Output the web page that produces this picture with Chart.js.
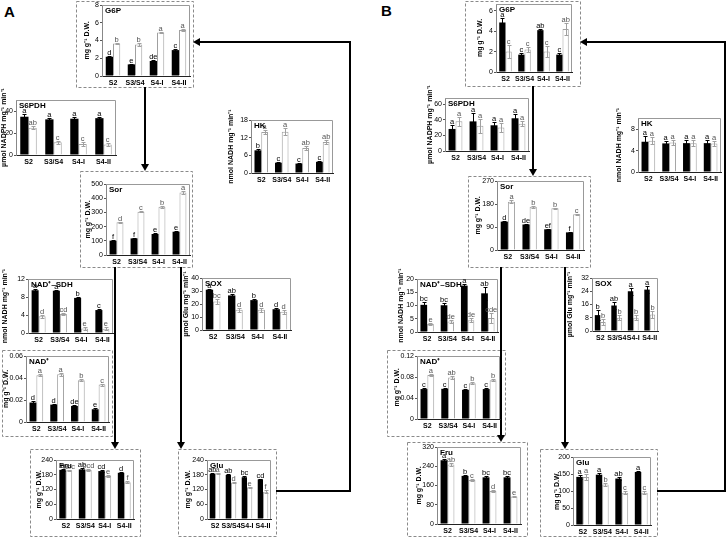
<!DOCTYPE html>
<html>
<head>
<meta charset="utf-8">
<script src="https://cdn.jsdelivr.net/npm/chart.js@4.4.0/dist/chart.umd.min.js"></script>
<style>
  body { margin: 0; background: #fff; }
  #fig { position: relative; width: 728px; height: 537px; overflow: hidden;
         font-family: "Liberation Sans", Arial, sans-serif; }
  .panel { position: absolute; font-weight: bold; font-size: 15px; }
  .cv { position: absolute; }
  #deco { position: absolute; left: 0; top: 0; }
</style>
</head>
<body>
<div id="fig">
  <svg id="deco" width="728" height="537"></svg>
  <div class="panel" style="left:4px;top:3px">A</div>
  <div class="panel" style="left:381px;top:2px">B</div>
</div>
<script>
const stages = ["S2", "S3/S4", "S4-I", "S4-II"];

// ---------- panel A ----------
const aG6pFilled = [2.17, 1.31, 1.69, 2.92];
const aG6pOpen = [3.67, 3.56, 4.91, 5.17];
const aG6pFilledErr = [0.08, 0.08, 0.06, 0.1];
const aG6pOpenErr = [0.1, 0.15, 0.1, 0.12];
const aG6pFilledSig = ["d", "e", "de", "c"];
const aG6pOpenSig = ["b", "b", "a", "a"];
const aG6pTicks = ["0", "2", "4", "6", "8"];

const aS6pdhFilled = [34.8, 32.4, 33, 33.5];
const aS6pdhOpen = [24.8, 11.5, 10, 9.5];
const aS6pdhFilledErr = [2.5, 1, 1.5, 1.5];
const aS6pdhOpenErr = [1.5, 1.5, 1.5, 1];
const aS6pdhFilledSig = ["a", "a", "a", "a"];
const aS6pdhOpenSig = ["ab", "c", "c", "c"];
const aS6pdhTicks = ["0", "10", "20", "30", "40", "50"];

const aHkFilled = [7.7, 3.5, 3.2, 3.8];
const aHkOpen = [13.9, 14, 8.5, 10.5];
const aHkFilledErr = [0.3, 0.3, 0.3, 0.3];
const aHkOpenErr = [0.8, 1.2, 0.8, 0.6];
const aHkFilledSig = ["b", "c", "c", "c"];
const aHkOpenSig = ["a", "a", "ab", "ab"];
const aHkTicks = ["0", "6", "12", "18"];

const aSorFilled = [101, 117, 148, 164];
const aSorOpen = [230, 305, 340, 441];
const aSorFilledErr = [3, 3, 4, 4];
const aSorOpenErr = [5, 5, 6, 12];
const aSorFilledSig = ["f", "f", "e", "e"];
const aSorOpenSig = ["d", "c", "b", "a"];
const aSorTicks = ["0", "100", "200", "300", "400", "500"];

const aSdhFilled = [9.5, 9.4, 7.8, 5.1];
const aSdhOpen = [3.7, 4.2, 1.0, 0.95];
const aSdhFilledErr = [0.2, 0.2, 0.3, 0.2];
const aSdhOpenErr = [0.4, 0.3, 0.3, 0.3];
const aSdhFilledSig = ["a", "a", "b", "c"];
const aSdhOpenSig = ["d", "cd", "e", "e"];
const aSdhTicks = ["0", "4", "8", "12"];

const aSoxFilled = [31, 26.6, 23, 16];
const aSoxOpen = [22, 15.5, 15.5, 14];
const aSoxFilledErr = [0.8, 0.8, 1, 1];
const aSoxOpenErr = [2, 1.5, 1.5, 1.5];
const aSoxFilledSig = ["a", "ab", "b", "d"];
const aSoxOpenSig = ["bc", "d", "d", "d"];
const aSoxTicks = ["0", "10", "20", "30", "40"];

const aNadFilled = [0.0177, 0.0158, 0.0146, 0.0116];
const aNadOpen = [0.0426, 0.0435, 0.038, 0.034];
const aNadFilledErr = [0.001, 0.001, 0.0008, 0.0008];
const aNadOpenErr = [0.001, 0.0015, 0.001, 0.001];
const aNadFilledSig = ["d", "d", "de", "e"];
const aNadOpenSig = ["a", "a", "b", "c"];
const aNadTicks = ["0", "0.02", "0.04", "0.06"];

const aFruFilled = [200, 202, 195, 188];
const aFruOpen = [198, 199, 175, 149];
const aFruFilledErr = [4, 4, 4, 4];
const aFruOpenErr = [3, 3, 3, 4];
const aFruFilledSig = ["a", "ab", "cd", "d"];
const aFruOpenSig = ["abc", "bcd", "e", "f"];
const aFruTicks = ["0", "60", "120", "180", "240"];

const aGluFilled = [183, 179, 170, 161];
const aGluOpen = [186, 148, 129, 111];
const aGluFilledErr = [4, 3, 3, 3];
const aGluOpenErr = [3, 3, 3, 6];
const aGluFilledSig = ["ab", "ab", "bc", "cd"];
const aGluOpenSig = ["a", "d", "e", "f"];
const aGluTicks = ["0", "60", "120", "180", "240"];

// ---------- panel B ----------
const bG6pFilled = [4.85, 1.7, 4.1, 1.7];
const bG6pOpen = [2.0, 2.2, 2.0, 4.2];
const bG6pFilledErr = [0.4, 0.15, 0.1, 0.15];
const bG6pOpenErr = [0.6, 0.2, 0.5, 0.6];
const bG6pFilledSig = ["a", "c", "ab", "c"];
const bG6pOpenSig = ["c", "c", "c", "ab"];
const bG6pTicks = ["0", "2", "4", "6"];

const bS6pdhFilled = [28.3, 38, 33, 42];
const bS6pdhOpen = [38.2, 32.5, 30, 35];
const bS6pdhFilledErr = [5, 11, 4, 5];
const bS6pdhOpenErr = [6, 9, 6, 3];
const bS6pdhFilledSig = ["a", "a", "a", "a"];
const bS6pdhOpenSig = ["a", "a", "a", "a"];
const bS6pdhTicks = ["0", "20", "40", "60"];

const bHkFilled = [5.66, 5.35, 5.4, 5.4];
const bHkOpen = [5.85, 5.5, 5.4, 5.35];
const bHkFilledErr = [1, 0.5, 0.5, 0.5];
const bHkOpenErr = [0.7, 0.5, 0.5, 0.5];
const bHkFilledSig = ["a", "a", "a", "a"];
const bHkOpenSig = ["a", "a", "a", "a"];
const bHkTicks = ["0", "2", "4", "6", "8", "10"];

const bSorFilled = [111, 100, 81, 69];
const bSorOpen = [189, 169.5, 163, 139.5];
const bSorFilledErr = [4, 3, 3, 3];
const bSorOpenErr = [5, 4, 3, 3];
const bSorFilledSig = ["d", "de", "ef", "f"];
const bSorOpenSig = ["a", "b", "b", "c"];
const bSorTicks = ["0", "90", "180", "270"];

const bSdhFilled = [10.25, 10.1, 17.5, 14.6];
const bSdhOpen = [3.0, 4.0, 4.4, 5.25];
const bSdhFilledErr = [1, 1, 0.5, 2.5];
const bSdhOpenErr = [0.5, 0.6, 0.8, 2];
const bSdhFilledSig = ["bc", "bc", "a", "ab"];
const bSdhOpenSig = ["e", "de", "de", "cde"];
const bSdhTicks = ["0", "5", "10", "15", "20"];

const bSoxFilled = [9.6, 15.4, 24, 25];
const bSoxOpen = [5.4, 8, 8, 10];
const bSoxFilledErr = [3, 2, 2, 2];
const bSoxOpenErr = [2, 1.5, 1.5, 2];
const bSoxFilledSig = ["b", "ab", "a", "a"];
const bSoxOpenSig = ["b", "b", "b", "b"];
const bSoxTicks = ["0", "8", "16", "24", "32"];

const bNadFilled = [0.057, 0.0575, 0.0556, 0.057];
const bNadOpen = [0.084, 0.079, 0.068, 0.074];
const bNadFilledErr = [0.002, 0.002, 0.002, 0.002];
const bNadOpenErr = [0.002, 0.002, 0.002, 0.002];
const bNadFilledSig = ["c", "c", "c", "c"];
const bNadOpenSig = ["a", "ab", "b", "b"];
const bNadTicks = ["0", "0.04", "0.08", "0.12"];

const bFruFilled = [265, 200, 194, 194];
const bFruOpen = [247, 183, 137, 114];
const bFruFilledErr = [5, 4, 4, 4];
const bFruOpenErr = [5, 4, 4, 3];
const bFruFilledSig = ["a", "b", "bc", "bc"];
const bFruOpenSig = ["ab", "c", "d", "e"];
const bFruTicks = ["0", "80", "160", "240", "320"];

const bGluFilled = [141.5, 148, 136.6, 156];
const bGluOpen = [141.5, 119, 94.6, 94.6];
const bGluFilledErr = [5, 4, 4, 3];
const bGluOpenErr = [8, 5, 4, 4];
const bGluFilledSig = ["a", "a", "ab", "a"];
const bGluOpenSig = ["a", "b", "c", "c"];
const bGluTicks = ["0", "50", "100", "150", "200"];

const DW = "mg g\u207B\u00B9 D.W.";
const NADH = "nmol NADH mg\u207B\u00B9 min\u207B\u00B9";

// plot = [left, right, top, bottom] of the plotting area, labX = centre of y title
const panels = [
  { title: "G6P", ylab: DW, f: aG6pFilled, o: aG6pOpen, fe: aG6pFilledErr, oe: aG6pOpenErr, fs: aG6pFilledSig, os: aG6pOpenSig, ticks: aG6pTicks, max: 8, plot: [102, 190, 5, 76], labX: 88 },
  { title: "S6PDH", ylab: "\u00B5mol NADPH mg\u207B\u00B9 min\u207B\u00B9", f: aS6pdhFilled, o: aS6pdhOpen, fe: aS6pdhFilledErr, oe: aS6pdhOpenErr, fs: aS6pdhFilledSig, os: aS6pdhOpenSig, ticks: aS6pdhTicks, max: 50, plot: [16, 116, 100, 155], labX: 5 },
  { title: "HK", ylab: NADH, f: aHkFilled, o: aHkOpen, fe: aHkFilledErr, oe: aHkOpenErr, fs: aHkFilledSig, os: aHkOpenSig, ticks: aHkTicks, max: 18, plot: [251, 333, 120, 173], labX: 232 },
  { title: "Sor", ylab: DW, f: aSorFilled, o: aSorOpen, fe: aSorFilledErr, oe: aSorOpenErr, fs: aSorFilledSig, os: aSorOpenSig, ticks: aSorTicks, max: 500, plot: [106, 190, 184, 255], labX: 89 },
  { title: "NAD\u207A\u2013SDH", ylab: NADH, f: aSdhFilled, o: aSdhOpen, fe: aSdhFilledErr, oe: aSdhOpenErr, fs: aSdhFilledSig, os: aSdhOpenSig, ticks: aSdhTicks, max: 12, plot: [28, 113, 279, 333], labX: 6 },
  { title: "SOX", ylab: "\u00B5mol Glu mg\u207B\u00B9 min\u207B\u00B9", f: aSoxFilled, o: aSoxOpen, fe: aSoxFilledErr, oe: aSoxOpenErr, fs: aSoxFilledSig, os: aSoxOpenSig, ticks: aSoxTicks, max: 40, plot: [202, 291, 278, 330], labX: 187 },
  { title: "NAD\u207A", ylab: DW, f: aNadFilled, o: aNadOpen, fe: aNadFilledErr, oe: aNadOpenErr, fs: aNadFilledSig, os: aNadOpenSig, ticks: aNadTicks, max: 0.06, plot: [26, 109, 356, 422], labX: 7 },
  { title: "Fru", ylab: DW, f: aFruFilled, o: aFruOpen, fe: aFruFilledErr, oe: aFruOpenErr, fs: aFruFilledSig, os: aFruOpenSig, ticks: aFruTicks, max: 240, plot: [56, 134, 460, 519], labX: 40 },
  { title: "Glu", ylab: DW, f: aGluFilled, o: aGluOpen, fe: aGluFilledErr, oe: aGluOpenErr, fs: aGluFilledSig, os: aGluOpenSig, ticks: aGluTicks, max: 240, plot: [207, 271, 460, 519], labX: 189 },

  { title: "G6P", ylab: DW, f: bG6pFilled, o: bG6pOpen, fe: bG6pFilledErr, oe: bG6pOpenErr, fs: bG6pFilledSig, os: bG6pOpenSig, ticks: bG6pTicks, max: 6.66, plot: [496, 572, 4, 72], labX: 481 },
  { title: "S6PDH", ylab: "\u00B5mol NADPH mg\u207B\u00B9 min\u207B\u00B9", f: bS6pdhFilled, o: bS6pdhOpen, fe: bS6pdhFilledErr, oe: bS6pdhOpenErr, fs: bS6pdhFilledSig, os: bS6pdhOpenSig, ticks: bS6pdhTicks, max: 68, plot: [445, 529, 98, 151], labX: 431 },
  { title: "HK", ylab: NADH, f: bHkFilled, o: bHkOpen, fe: bHkFilledErr, oe: bHkOpenErr, fs: bHkFilledSig, os: bHkOpenSig, ticks: bHkTicks, max: 10.1, plot: [638, 721, 118, 172], labX: 620 },
  { title: "Sor", ylab: DW, f: bSorFilled, o: bSorOpen, fe: bSorFilledErr, oe: bSorOpenErr, fs: bSorFilledSig, os: bSorOpenSig, ticks: bSorTicks, max: 270, plot: [497, 584, 181, 250], labX: 479 },
  { title: "NAD\u207A\u2013SDH", ylab: NADH, f: bSdhFilled, o: bSdhOpen, fe: bSdhFilledErr, oe: bSdhOpenErr, fs: bSdhFilledSig, os: bSdhOpenSig, ticks: bSdhTicks, max: 20, plot: [417, 498, 279, 332], labX: 402 },
  { title: "SOX", ylab: "\u00B5mol Glu mg\u207B\u00B9 min\u207B\u00B9", f: bSoxFilled, o: bSoxOpen, fe: bSoxFilledErr, oe: bSoxOpenErr, fs: bSoxFilledSig, os: bSoxOpenSig, ticks: bSoxTicks, max: 32, plot: [592, 658, 278, 331], labX: 571 },
  { title: "NAD\u207A", ylab: DW, f: bNadFilled, o: bNadOpen, fe: bNadFilledErr, oe: bNadOpenErr, fs: bNadFilledSig, os: bNadOpenSig, ticks: bNadTicks, max: 0.12, plot: [417, 500, 356, 419], labX: 398 },
  { title: "Fru", ylab: DW, f: bFruFilled, o: bFruOpen, fe: bFruFilledErr, oe: bFruOpenErr, fs: bFruFilledSig, os: bFruOpenSig, ticks: bFruTicks, max: 320, plot: [437, 521, 447, 524], labX: 420 },
  { title: "Glu", ylab: DW, f: bGluFilled, o: bGluOpen, fe: bGluFilledErr, oe: bGluOpenErr, fs: bGluFilledSig, os: bGluOpenSig, ticks: bGluTicks, max: 200, plot: [573, 651, 457, 525], labX: 558 },
];

// dashed frames [x0, y0, x1, y1]
const frames = [
  [76, 1, 193, 87], [80, 171, 192, 267], [2, 350, 112, 436], [30, 449, 140, 536], [178, 449, 276, 536],
  [465, 1, 580, 86], [468, 176, 590, 267], [387, 350, 505, 436], [407, 442, 527, 536], [540, 449, 657, 536],
];
// connector arrows, head at the last point
const arrows = [
  [[145, 87], [145, 171]],
  [[115, 267], [115, 449]],
  [[181, 267], [181, 449]],
  [[276, 491], [350, 491], [350, 42], [193, 42]],
  [[533, 86], [533, 176]],
  [[501, 267], [501, 442]],
  [[565, 267], [565, 449]],
  [[657, 491], [725, 491], [725, 42], [580, 42]],
];

Chart.defaults.font.family = "'Liberation Sans', Arial, sans-serif";
Chart.defaults.color = "#000";

const PT = 24, XH = 30, PR = 8;

// plot frame, error bars, letters and title inside the plot
const barExtras = {
  id: "barExtras",
  beforeDatasetsDraw(chart) {
    const { ctx, chartArea: a } = chart;
    ctx.save();
    ctx.strokeStyle = "#999";
    ctx.lineWidth = 1;
    ctx.beginPath();
    ctx.moveTo(a.left, a.top + 0.5);
    ctx.lineTo(a.right - 0.5, a.top + 0.5);
    ctx.lineTo(a.right - 0.5, a.bottom);
    ctx.stroke();
    ctx.restore();
  },
  afterDatasetsDraw(chart, args, opts) {
    const { ctx, chartArea: a } = chart;
    const y = chart.scales.y;
    ctx.save();
    ctx.lineWidth = 1;
    chart.data.datasets.forEach((ds, i) => {
      chart.getDatasetMeta(i).data.forEach((bar, j) => {
        const v = ds.data[j], e = ds.err[j];
        const top = Math.round(y.getPixelForValue(v + e)) + 0.5;
        const bot = Math.round(y.getPixelForValue(Math.max(v - e, 0))) + 0.5;
        const x = Math.round(bar.x) + 0.5;
        ctx.strokeStyle = ds.errColor;
        ctx.beginPath();
        ctx.moveTo(x, top); ctx.lineTo(x, bot);
        ctx.moveTo(x - 2, top); ctx.lineTo(x + 2, top);
        ctx.moveTo(x - 2, bot); ctx.lineTo(x + 2, bot);
        ctx.stroke();
        ctx.fillStyle = ds.sigColor;
        ctx.font = "7.5px 'Liberation Sans', Arial, sans-serif";
        ctx.textAlign = "center";
        ctx.textBaseline = "bottom";
        ctx.fillText(ds.sig[j], bar.x, top);
      });
    });
    ctx.fillStyle = "#000";
    ctx.font = "bold 8px 'Liberation Sans', Arial, sans-serif";
    ctx.textAlign = "left";
    ctx.textBaseline = "top";
    ctx.fillText(opts.title, a.left + 3, a.top + 2);
    ctx.restore();
  },
};

const fig = document.getElementById("fig");

function drawPanel(p) {
  const [x0, x1, yTop, yBot] = p.plot;
  const yw = Math.round(x0 - p.labX + 3.5);
  const w = yw + (x1 - x0) + PR;
  const h = PT + (yBot - yTop) + XH;
  const holder = document.createElement("div");
  holder.className = "cv";
  holder.style.left = (x0 - yw) + "px";
  holder.style.top = (yTop - PT) + "px";
  const canvas = document.createElement("canvas");
  canvas.width = w;
  canvas.height = h;
  canvas.style.width = w + "px";
  canvas.style.height = h + "px";
  holder.appendChild(canvas);
  fig.appendChild(holder);
  const tickVals = p.ticks.map(Number);

  new Chart(canvas, {
    type: "bar",
    data: {
      labels: stages,
      datasets: [
        { data: p.f, err: p.fe, sig: p.fs, backgroundColor: "#000", borderWidth: 0,
          errColor: "#000", sigColor: "#000" },
        { data: p.o, err: p.oe, sig: p.os, backgroundColor: "#fff", borderColor: "#a0a0a0",
          borderWidth: 1, errColor: "#a0a0a0", sigColor: "#555" },
      ],
    },
    options: {
      responsive: false,
      animation: false,
      devicePixelRatio: 1,
      events: [],
      layout: { padding: { top: PT, right: PR, left: 0, bottom: 0 } },
      datasets: { bar: { barPercentage: 1, categoryPercentage: 0.66 } },
      plugins: {
        legend: { display: false },
        tooltip: { enabled: false },
        barExtras: { title: p.title },
      },
      scales: {
        x: {
          grid: { display: false, drawTicks: false },
          border: { display: true, color: "#222" },
          ticks: { font: { size: 7, weight: "bold" }, color: "#000", padding: 3,
                   maxRotation: 0, autoSkip: false },
          afterFit(s) { s.height = XH; },
        },
        y: {
          min: 0,
          max: p.max,
          grid: { drawOnChartArea: false, drawTicks: true, tickLength: 2, color: "#555" },
          border: { display: true, color: "#888" },
          ticks: { font: { size: 7 }, color: "#000", padding: 1,
                   callback: (v, i) => p.ticks[i] },
          afterBuildTicks(s) { s.ticks = tickVals.map((v) => ({ value: v })); },
          title: { display: true, text: p.ylab, padding: 0,
                   font: { size: 7, weight: "bold", lineHeight: 1 } },
          afterFit(s) { s.width = yw; },
        },
      },
    },
    plugins: [barExtras],
  });
}

panels.forEach(drawPanel);

// frames and connectors
const svg = document.getElementById("deco");
const NS = "http://www.w3.org/2000/svg";
function el(name, attrs) {
  const e = document.createElementNS(NS, name);
  for (const k in attrs) e.setAttribute(k, attrs[k]);
  svg.appendChild(e);
}
frames.forEach(([x0, y0, x1, y1]) => {
  el("rect", { x: x0 + 0.5, y: y0 + 0.5, width: x1 - x0, height: y1 - y0, fill: "none",
               stroke: "#8a8a8a", "stroke-width": 1, "stroke-dasharray": "3,2" });
});
arrows.forEach((pts) => {
  const n = pts.length;
  const [xe, ye] = pts[n - 1], [xp, yp] = pts[n - 2];
  const len = Math.hypot(xe - xp, ye - yp);
  const ux = (xe - xp) / len, uy = (ye - yp) / len;
  const bx = xe - ux * 7, by = ye - uy * 7;
  const line = pts.slice(0, n - 1).concat([[bx, by]]);
  el("polyline", { points: line.map((q) => q.join(",")).join(" "), fill: "none",
                   stroke: "#000", "stroke-width": 2 });
  el("polygon", { points: [[xe, ye], [bx - uy * 4, by + ux * 4], [bx + uy * 4, by - ux * 4]]
                   .map((q) => q.join(",")).join(" "), fill: "#000" });
});
</script>
</body>
</html>
